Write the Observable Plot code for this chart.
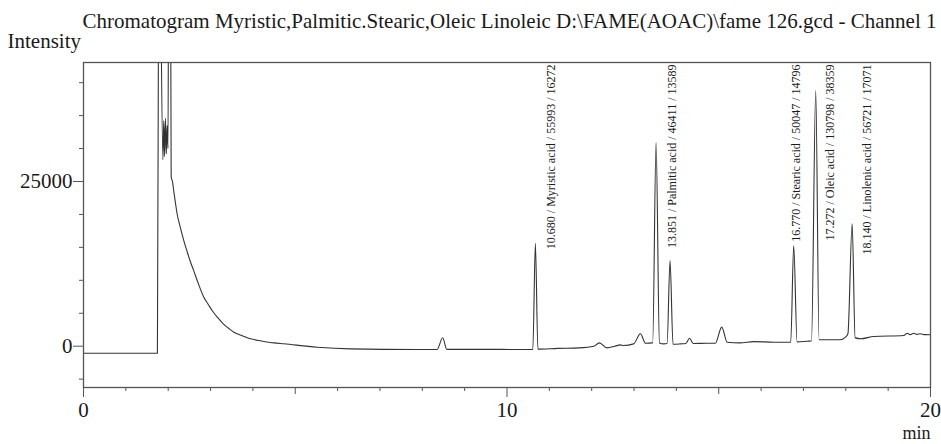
<!DOCTYPE html>
<html><head><meta charset="utf-8">
<script src="https://cdn.jsdelivr.net/npm/d3@7"></script>
<script src="https://cdn.jsdelivr.net/npm/@observablehq/plot@0.6"></script>
<style>html,body{margin:0;padding:0;background:#fff} svg{display:block}</style>
</head><body><div id="chart"></div>
<script>
// ---- data ----
const traceTime = [
  0, 1.745, 1.775, 1.79, 1.875, 1.895, 1.915, 1.935, 1.955, 1.975, 1.995, 2.015, 2.05, 2.07,
  2.10, 2.13, 2.17, 2.21, 2.28, 2.37, 2.45, 2.52, 2.60, 2.70, 2.84, 2.95, 3.05, 3.16, 3.30, 3.45, 3.55, 3.70, 3.94, 4.20, 4.50, 4.73, 5.52, 6.30, 7.88,
  8.35, 8.48, 8.58, 9.50, 10.24, 10.61, 10.67, 10.73, 11.20, 11.70, 12.05, 12.18, 12.36, 12.55, 12.68, 12.75, 12.99, 13.15, 13.27,
  13.44, 13.52, 13.60, 13.70, 13.78, 13.85, 13.92, 14.10, 14.22, 14.31, 14.40, 14.72, 14.92, 15.07, 15.20, 15.50, 15.83, 16.30,
  16.70, 16.77, 16.85, 17.09, 17.19, 17.29, 17.37, 17.87, 17.98, 18.05, 18.15, 18.22, 18.35, 18.66, 19.37, 19.45, 19.52, 19.60, 19.68, 19.76, 19.85, 20.0
];
const traceIntensity = [
  -1060, -1060, 60000, 70000, 28300, 34200, 28800, 34600, 29200, 33500, 30000, 70000, 70000, 25700,
  25000, 23600, 21800, 20100, 18200, 16000, 14300, 12900, 11500, 9700, 7440, 6300, 5300, 4400, 3400, 2600, 2130, 1700, 1120, 800, 500, 360, -150, -400, -500,
  -500, 1270, -480, -480, -500, -480, 15630, -450, -330, -250, 0, 500, -250, 0, 200, 100, 350, 1880, 450,
  500, 30960, 500, 350, 400, 13000, 300, 350, 400, 1200, 400, 450, 450, 2900, 600, 500, 700, 600,
  620, 15280, 650, 760, 800, 38800, 970, 970, 1300, 1880, 18580, 1300, 1120, 1470, 1620, 1970, 1750, 1970, 1800, 1880, 1750, 1730
];
const peakTimes = [10.680, 13.851, 16.770, 17.272, 18.140];
const peakNames = ["Myristic acid", "Palmitic acid", "Stearic acid", "Oleic acid", "Linolenic acid"];
const peakAreas = [55993, 46411, 50047, 130798, 56721];
const peakHeights = [16272, 13589, 14796, 38359, 17071];
const yLabelTicks = [0, 25000];
const yMinorTicks = [-5000, 5000, 10000, 15000, 20000, 30000, 35000, 40000];
const xLabelTicks = [0, 10, 20];
const xMidTicks = [5, 15];
const xMinorTicks = [1, 2, 3, 4, 6, 7, 8, 9, 11, 12, 13, 14, 16, 17, 18, 19];
const titleText = "Chromatogram Myristic,Palmitic.Stearic,Oleic Linoleic D:\\FAME(AOAC)\\fame 126.gcd - Channel 1";
const yTitle = "Intensity";
const xTitle = "min";

// ---- build ----
const trace = traceTime.map((t, i) => ({t, v: traceIntensity[i]}));
const peaks = peakTimes.map((t, i) => ({
  t, h: peakHeights[i],
  label: `${t.toFixed(3)} / ${peakNames[i]} / ${peakAreas[i]} / ${peakHeights[i]}`
}));
const tall = d => d.h > 15000;
const font = "'Liberation Serif','Times New Roman',serif";
const ink = "#1a1a1a";
const axisInk = "#555";

const chart = Plot.plot({
  width: 941, height: 444,
  marginLeft: 83, marginRight: 11, marginTop: 62, marginBottom: 57,
  style: {fontFamily: font, background: "#fff", color: ink, overflow: "visible"},
  x: {domain: [0, 20], axis: null},
  y: {domain: [-6270, 43060], axis: null},
  marks: [
    Plot.line(trace, {x: "t", y: "v", stroke: "#333", strokeWidth: 1.1, curve: "monotone-x", clip: true}),
    Plot.frame({stroke: axisInk, strokeWidth: 1.3}),
    Plot.axisY({ticks: yLabelTicks, tickSize: 10, tickPadding: 1, fontSize: 21, tickFormat: d => String(d), stroke: axisInk, fill: ink, label: null}),
    Plot.axisY({ticks: yMinorTicks, tickSize: 4, fill: "none", stroke: axisInk, label: null}),
    Plot.axisX({ticks: xLabelTicks, tickSize: 10, tickPadding: 5, fontSize: 21, tickFormat: d => String(d), stroke: axisInk, fill: ink, label: null}),
    Plot.axisX({ticks: xMidTicks, tickSize: 7, fill: "none", stroke: axisInk, label: null}),
    Plot.axisX({ticks: xMinorTicks, tickSize: 4, fill: "none", stroke: axisInk, label: null}),
    Plot.text(peaks.filter(tall), {x: "t", frameAnchor: "top", text: "label", rotate: -90, textAnchor: "end", lineAnchor: "middle", dx: 15, dy: 2, fontSize: 12, fill: ink}),
    Plot.text(peaks.filter(d => !tall(d)), {x: "t", frameAnchor: "top", text: "label", rotate: -90, textAnchor: "end", lineAnchor: "middle", dx: 2, dy: 2, fontSize: 12, fill: ink}),
    Plot.text([titleText], {frameAnchor: "top-left", textAnchor: "start", lineAnchor: "bottom", dx: -1, dy: -35, fontSize: 21, fill: ink}),
    Plot.text([yTitle], {frameAnchor: "top-left", textAnchor: "start", lineAnchor: "bottom", dx: -76, dy: -15, fontSize: 21, fill: ink}),
    Plot.text([xTitle], {frameAnchor: "bottom-right", textAnchor: "end", lineAnchor: "bottom", dx: 0, dy: 51, fontSize: 18, fill: ink})
  ]
});
document.getElementById("chart").appendChild(chart);
</script>
</body></html>
